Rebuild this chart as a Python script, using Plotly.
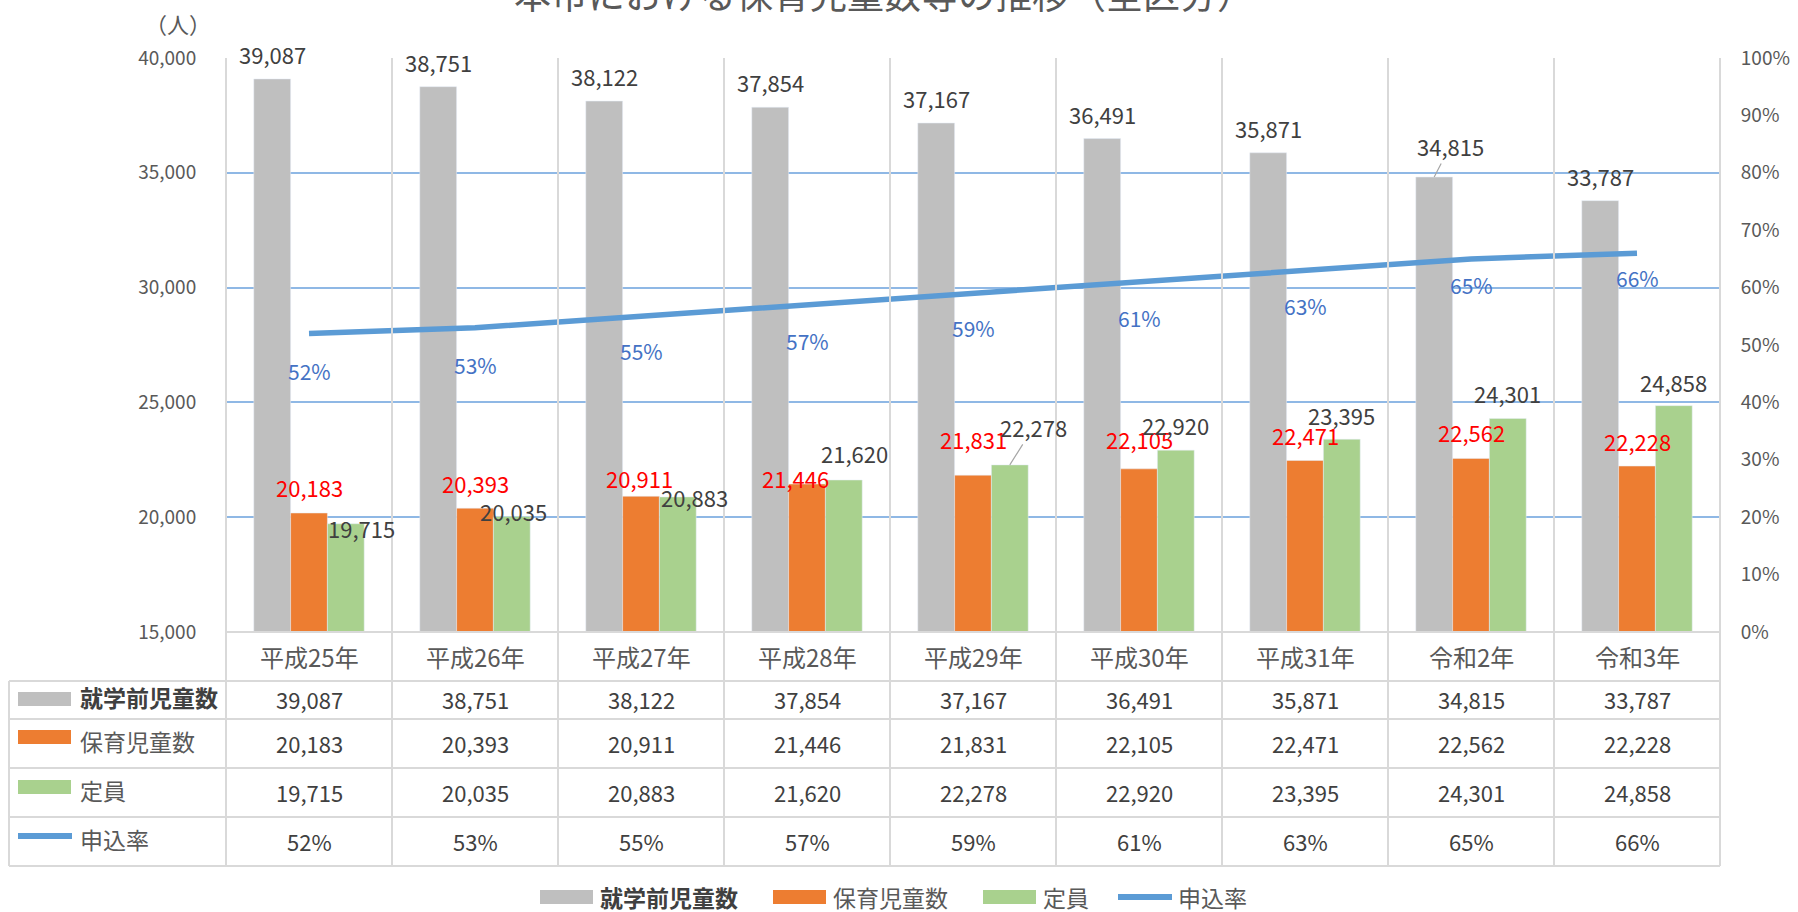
import plotly.graph_objects as go

# data
categories = ["平成25年", "平成26年", "平成27年", "平成28年", "平成29年",
              "平成30年", "平成31年", "令和2年", "令和3年"]
preschool = [39087, 38751, 38122, 37854, 37167, 36491, 35871, 34815, 33787]
nursery = [20183, 20393, 20911, 21446, 21831, 22105, 22471, 22562, 22228]
capacity = [19715, 20035, 20883, 21620, 22278, 22920, 23395, 24301, 24858]
apply_rate = [0.52, 0.53, 0.55, 0.57, 0.59, 0.61, 0.63, 0.65, 0.66]
series_names = ["就学前児童数", "保育児童数", "定員", "申込率"]
title_text = "本市における保育児童数等の推移（全区分）"
unit_text = "（人）"

# look
GRAY, ORANGE, GREEN, BLUE = "#BFBFBF", "#ED7D31", "#A9D18E", "#5B9BD5"
FONT = "Noto Sans CJK JP, Noto Sans, sans-serif"
TXT, TXT2 = "#404040", "#595959"
BORDER = "#D9D9D9"

W, H = 1798, 912
L, R, T, B = 226, 1720, 58, 632   # plot box in pixels
PW, PH = R - L, B - T
BARGAP = 0.335
bw = (1 - BARGAP) / 3


def px_x(p):
    return (p - L) / PW


def px_y(p):
    return (B - p) / PH


xs = list(range(len(categories)))
n = len(xs)

fig = go.Figure()
fig.add_trace(go.Bar(x=xs, y=preschool, name=series_names[0], marker_color=GRAY, showlegend=False))
fig.add_trace(go.Bar(x=xs, y=nursery, name=series_names[1], marker_color=ORANGE, showlegend=False))
fig.add_trace(go.Bar(x=xs, y=capacity, name=series_names[2], marker_color=GREEN, showlegend=False))
fig.add_trace(go.Scatter(x=xs, y=apply_rate, name=series_names[3], yaxis="y2", mode="lines",
                         line=dict(color=BLUE, width=5.5), showlegend=False))

ann = []
shapes = []


def text(**kw):
    kw.setdefault("showarrow", False)
    kw.setdefault("xanchor", "center")
    kw.setdefault("yanchor", "middle")
    ann.append(kw)


# label nudges (pixels), hand-placed in the original
or_dx = [0, 0, -2, -12, 0, 0, 0, 0, 0]
or_dy = [26, 25, 18, 6, 36, 30, 25, 26, 25]
gr_dx = [16, 2, 17, 11, 24, 0, 0, 0, 0]
gr_dy = [-4, 5, 0, 27, 38, 25, 24, 25, 24]
pct_dy = [-37, -37, -35, -36, -35, -36, -36, -26, -25]

lab_font = dict(family=FONT, size=22, color=TXT)
for i in xs:
    # 就学前児童数
    if i == 7:
        text(x=i - bw, y=preschool[i], xref="x", yref="y", text=f"{preschool[i]:,}",
             showarrow=True, arrowhead=0, arrowwidth=1.2, arrowcolor="#A6A6A6",
             ax=16, ay=-31, standoff=0, font=lab_font)
    else:
        text(x=i - bw, y=preschool[i], xref="x", yref="y", text=f"{preschool[i]:,}",
             yshift=25, font=lab_font)
    # 保育児童数 (red)
    text(x=i, y=nursery[i], xref="x", yref="y", text=f"{nursery[i]:,}",
         xshift=or_dx[i], yshift=or_dy[i], font=dict(family=FONT, size=22, color="#FF0000"))
    # 定員
    if i == 4:
        text(x=i + bw, y=capacity[i], xref="x", yref="y", text=f"{capacity[i]:,}",
             showarrow=True, arrowhead=0, arrowwidth=1.2, arrowcolor="#A6A6A6",
             ax=gr_dx[i], ay=-gr_dy[i], standoff=0, font=lab_font)
    else:
        text(x=i + bw, y=capacity[i], xref="x", yref="y", text=f"{capacity[i]:,}",
             xshift=gr_dx[i], yshift=gr_dy[i], font=lab_font)
    # 申込率
    text(x=i, y=apply_rate[i], xref="x", yref="y2", text=f"{apply_rate[i]:.0%}",
         yshift=pct_dy[i], font=dict(family=FONT, size=21, color="#4472C4"))

# title (cut off at the top in the original) and unit
text(x=px_x(884), y=px_y(-7), xref="paper", yref="paper", text=title_text,
     font=dict(family=FONT, size=37, color=TXT2))
text(x=px_x(178), y=px_y(23), xref="paper", yref="paper", text=unit_text,
     font=dict(family=FONT, size=22, color=TXT2))

# data table below the plot
rows = [632, 681, 719, 768, 817, 866]
TL = 9
for k in range(n + 1):
    shapes.append(dict(type="line", xref="paper", yref="paper", x0=k / n, x1=k / n,
                       y0=px_y(T), y1=px_y(rows[-1]), line=dict(color=BORDER, width=2)))
shapes.append(dict(type="line", xref="paper", yref="paper", x0=px_x(TL), x1=px_x(TL),
                   y0=px_y(rows[1]), y1=px_y(rows[-1]), line=dict(color=BORDER, width=2)))
shapes.append(dict(type="line", xref="paper", yref="paper", x0=0, x1=1,
                   y0=0, y1=0, line=dict(color=BORDER, width=2)))
for r in rows[1:]:
    shapes.append(dict(type="line", xref="paper", yref="paper", x0=px_x(TL), x1=1,
                       y0=px_y(r), y1=px_y(r), line=dict(color=BORDER, width=2)))

cell_font = dict(family=FONT, size=22, color=TXT)
row_mid = [(rows[j] + rows[j + 1]) / 2 for j in range(len(rows) - 1)]
for i in xs:
    text(x=i, y=px_y(row_mid[0]), xref="x", yref="paper", text=categories[i],
         font=dict(family=FONT, size=24, color=TXT2))
    vals = [f"{preschool[i]:,}", f"{nursery[i]:,}", f"{capacity[i]:,}", f"{apply_rate[i]:.0%}"]
    for j, v in enumerate(vals):
        text(x=i, y=px_y(row_mid[j + 1] - 1), xref="x", yref="paper", text=v, font=cell_font)


# series keys (table first column and bottom legend)
def key(x0, yc, color, is_line):
    if is_line:
        shapes.append(dict(type="line", xref="paper", yref="paper", x0=px_x(x0), x1=px_x(x0 + 54),
                           y0=px_y(yc), y1=px_y(yc), line=dict(color=color, width=6)))
    else:
        shapes.append(dict(type="rect", xref="paper", yref="paper", x0=px_x(x0), x1=px_x(x0 + 53),
                           y0=px_y(yc - 7), y1=px_y(yc + 7), fillcolor=color, line=dict(width=0)))


colors = [GRAY, ORANGE, GREEN, BLUE]
key_y = [699, 737, 787, 836]
for j, name in enumerate(series_names):
    key(18, key_y[j], colors[j], j == 3)
    txt = f"<b>{name}</b>" if j == 0 else name
    text(x=px_x(78), y=px_y(row_mid[j + 1] - 3), xref="paper", yref="paper", text=txt,
         xanchor="left", font=dict(family=FONT, size=23, color=TXT if j == 0 else TXT2))

leg_x = [540, 773, 983, 1118]
leg_y = 897
for j, name in enumerate(series_names):
    key(leg_x[j], leg_y, colors[j], j == 3)
    txt = f"<b>{name}</b>" if j == 0 else name
    text(x=px_x(leg_x[j] + 58), y=px_y(leg_y), xref="paper", yref="paper", text=txt,
         xanchor="left", font=dict(family=FONT, size=23, color=TXT if j == 0 else TXT2))

fig.update_layout(
    width=W, height=H,
    margin=dict(l=L, r=W - R, t=T, b=H - B),
    paper_bgcolor="white", plot_bgcolor="white",
    barmode="group", bargap=BARGAP, bargroupgap=0,
    font=dict(family=FONT, color=TXT2),
    xaxis=dict(range=[-0.5, n - 0.5], showticklabels=False, showgrid=False, automargin=False,
               zeroline=False, showline=False, fixedrange=True),
    yaxis=dict(range=[15000, 40000], dtick=5000, tickformat=",", gridcolor="#8FB8E5",
               gridwidth=1.5, zeroline=False, showline=False, ticks="outside", ticklen=25,
               automargin=False,
               tickcolor="rgba(0,0,0,0)", tickfont=dict(family=FONT, size=19, color=TXT2)),
    yaxis2=dict(range=[0, 1], dtick=0.1, tickformat=".0%", overlaying="y", side="right",
                showgrid=False, zeroline=False, showline=False, ticks="outside", ticklen=16,
                automargin=False,
                tickcolor="rgba(0,0,0,0)", tickfont=dict(family=FONT, size=19, color=TXT2)),
    annotations=ann,
    shapes=shapes,
)

fig.write_html("out.html", config={"displayModeBar": False},
               post_script="document.body.style.margin='0px';")
